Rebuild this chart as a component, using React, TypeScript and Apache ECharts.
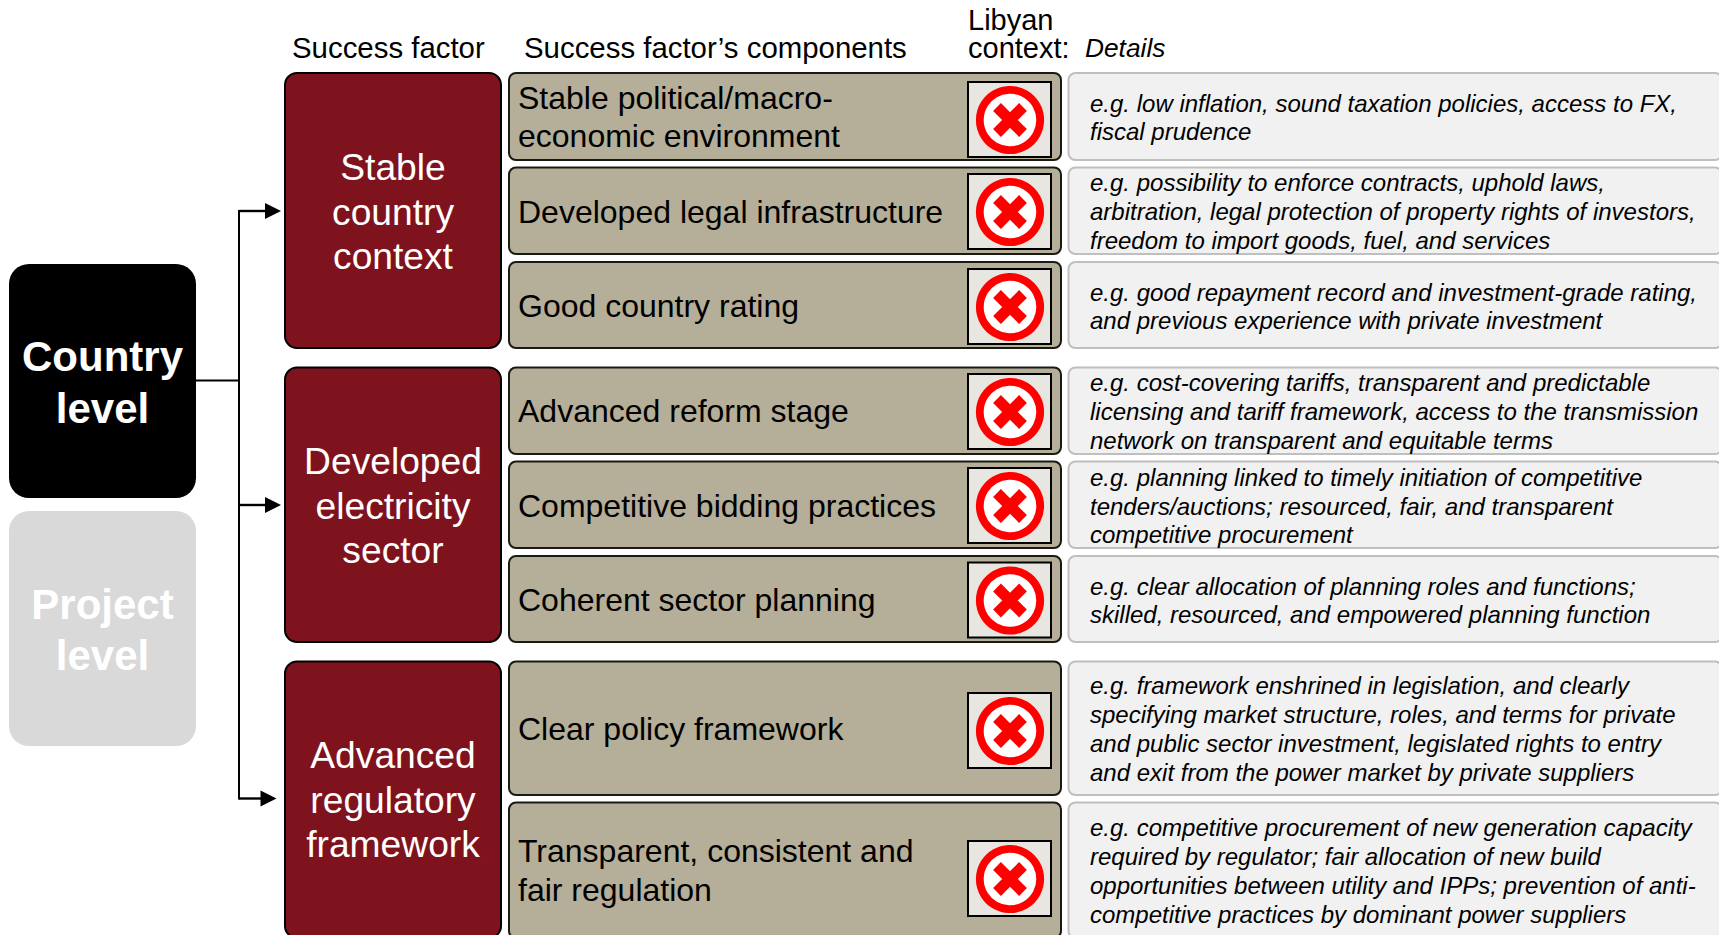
import React, { useEffect, useRef } from "react";
import * as echarts from "echarts";

const headers = ["Success factor", "Success factor’s components", "Libyan", "context:", "Details"];
const levels = [["Country", "level"], ["Project", "level"]];
const factors = [
  ["Stable", "country", "context"],
  ["Developed", "electricity", "sector"],
  ["Advanced", "regulatory", "framework"],
];
const components = [
  ["Stable political/macro-", "economic environment"],
  ["Developed legal infrastructure"],
  ["Good country rating"],
  ["Advanced reform stage"],
  ["Competitive bidding practices"],
  ["Coherent sector planning"],
  ["Clear policy framework"],
  ["Transparent, consistent and", "fair regulation"],
];
const details = [
  ["e.g. low inflation, sound taxation policies, access to FX,", "fiscal prudence"],
  ["e.g. possibility to enforce contracts, uphold laws,", "arbitration, legal protection of property rights of investors,", "freedom to import goods, fuel, and services"],
  ["e.g. good repayment record and investment-grade rating,", "and previous experience with private investment"],
  ["e.g. cost-covering tariffs, transparent and predictable", "licensing and tariff framework, access to the transmission", "network on transparent and equitable terms"],
  ["e.g. planning linked to timely initiation of competitive", "tenders/auctions; resourced, fair, and transparent", "competitive procurement"],
  ["e.g. clear allocation of planning roles and functions;", "skilled, resourced, and empowered planning function"],
  ["e.g. framework enshrined in legislation, and clearly", "specifying market structure, roles, and terms for private", "and public sector investment, legislated rights to entry", "and exit from the power market by private suppliers"],
  ["e.g. competitive procurement of new generation capacity", "required by regulator; fair allocation of new build", "opportunities between utility and IPPs; prevention of anti-", "competitive practices by dominant power suppliers"],
];

// layout (pixels), kept apart from the content above
const rowSpans = [[73, 160], [167.5, 254], [262, 348], [367.5, 454], [461.5, 548], [556, 642], [661.5, 795], [802.5, 938]];
const rowTextCentres = [117, 211.5, 306, 411, 506, 600, 728.5, 870.5];
const detailCentres = [117.5, 211.5, 306.5, 411.5, 506, 600.5, 729, 871];
const iconCentres = [120, 212, 307, 412, 506, 600.5, 731, 879];
const factorSpans = [[73, 348], [367.5, 642], [661.5, 938]];
const factorTextCentres = [211.6, 505.6, 799.6];
const arrows = [
  { y: 211, tip: 281 },
  { y: 505, tip: 281 },
  { y: 798.5, tip: 276.5 },
];
const FONT = '"Liberation Sans", Arial, sans-serif';

function textEl(text: string, x: number, y: number, size: number, fill: string, extra: any = {}) {
  return {
    type: "text",
    x,
    y,
    silent: true,
    style: { text, fill, fontFamily: FONT, fontSize: size, align: "left", verticalAlign: "middle", ...extra },
  };
}
function block(lines: string[], x: number, centre: number, spacing: number, size: number, fill: string, extra: any = {}) {
  return lines.map((l, i) => textEl(l, x, centre + (i - (lines.length - 1) / 2) * spacing, size, fill, extra));
}
function roundRect(x0: number, y0: number, x1: number, y1: number, r: number, fill: string, stroke: string | null, lw = 2) {
  return {
    type: "rect",
    silent: true,
    shape: { x: x0, y: y0, width: x1 - x0, height: y1 - y0, r },
    style: { fill, stroke: stroke ?? undefined, lineWidth: stroke ? lw : 0 },
  };
}

function buildElements() {
  const els: any[] = [];
  // level boxes
  els.push(roundRect(9, 264, 196, 498, 20, "#000000", null));
  els.push(roundRect(9, 511, 196, 746, 20, "#D9D9D9", null));
  els.push(...block(levels[0], 102.5, 382.5, 51.5, 42, "#FFFFFF", { align: "center", fontWeight: "bold" }));
  els.push(...block(levels[1], 102.5, 630, 51.5, 42, "#FFFFFF", { align: "center", fontWeight: "bold" }));

  // connectors
  const line = (x1: number, y1: number, x2: number, y2: number, w = 2) => ({
    type: "line",
    silent: true,
    shape: { x1, y1, x2, y2 },
    style: { stroke: "#000000", lineWidth: w, fill: "none" },
  });
  els.push(line(196, 380.5, 239, 380.5));
  els.push(line(239, arrows[0].y - 1, 239, arrows[2].y + 1));
  arrows.forEach((a) => {
    els.push(line(239, a.y, a.tip - 15, a.y, 2.4));
    els.push({
      type: "polygon",
      silent: true,
      shape: { points: [[a.tip - 16, a.y - 8], [a.tip, a.y], [a.tip - 16, a.y + 8]] },
      style: { fill: "#000000" },
    });
  });

  // headers
  els.push(textEl(headers[0], 292, 47.5, 29.4, "#000000"));
  els.push(textEl(headers[1], 524, 47.5, 29.4, "#000000"));
  els.push(textEl(headers[2], 968, 20, 29, "#000000"));
  els.push(textEl(headers[3], 968, 47.5, 29, "#000000"));
  els.push(textEl(headers[4], 1085, 48, 26.3, "#000000", { fontStyle: "italic" }));

  // factors
  factors.forEach((lines, i) => {
    const [a, b] = factorSpans[i];
    els.push(roundRect(285, a, 501, b, 12, "#7F131D", "#000000"));
    els.push(...block(lines, 393, factorTextCentres[i], 44.4, 37.2, "#FFFFFF", { align: "center" }));
  });

  // rows
  components.forEach((lines, i) => {
    const [a, b] = rowSpans[i];
    els.push(roundRect(509, a, 1061, b, 7, "#B5AE98", "#1A1A14", 2));
    els.push(...block(lines, 518, rowTextCentres[i], 38.5, 32, "#000000"));
    const c = iconCentres[i];
    els.push({
      type: "rect",
      silent: true,
      shape: { x: 968, y: c - 38, width: 83, height: 75 },
      style: { fill: "#E8E6E1", stroke: "#000000", lineWidth: 2 },
    });
    els.push({
      type: "circle",
      silent: true,
      shape: { cx: 1010, cy: c, r: 30.2 },
      style: { fill: "#FFFFFF", stroke: "#FF0000", lineWidth: 7.8 },
    });
    const d = 13;
    els.push({ type: "line", silent: true, shape: { x1: 1010 - d, y1: c - d, x2: 1010 + d, y2: c + d }, style: { stroke: "#FF0000", lineWidth: 11 } });
    els.push({ type: "line", silent: true, shape: { x1: 1010 + d, y1: c - d, x2: 1010 - d, y2: c + d }, style: { stroke: "#FF0000", lineWidth: 11 } });

    els.push(roundRect(1068.5, a, 1722, b, 7, "#F1F1F1", "#BFBFBF", 2));
    els.push(...block(details[i], 1090, detailCentres[i], 28.7, 24, "#000000", { fontStyle: "italic" }));
  });
  return els;
}

export default function App() {
  const ref = useRef<HTMLDivElement>(null);
  useEffect(() => {
    const chart = echarts.init(ref.current!, undefined, { renderer: "svg" });
    chart.setOption({
      animation: false,
      backgroundColor: "#FFFFFF",
      graphic: { elements: buildElements() },
    });
    return () => chart.dispose();
  }, []);
  return <div ref={ref} style={{ position: "fixed", left: 0, top: 0, width: 1719, height: 935 }} />;
}
